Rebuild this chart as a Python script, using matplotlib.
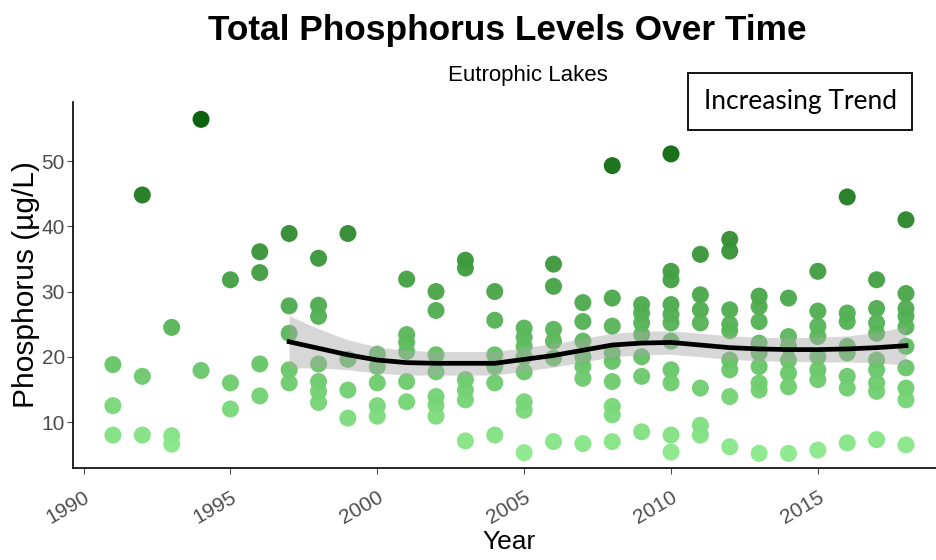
import matplotlib
matplotlib.use("Agg")
import matplotlib.pyplot as plt
import numpy as np
from matplotlib.colors import LinearSegmentedColormap

# Total phosphorus samples (µg/L) per sampling year
years = [1991, 1992, 1993, 1994, 1995, 1996, 1997, 1998, 1999, 2000,
         2001, 2002, 2003, 2004, 2005, 2006, 2007, 2008, 2009, 2010,
         2011, 2012, 2013, 2014, 2015, 2016, 2017, 2018]

tp_by_year = [
    [18.8, 12.5, 8.0],                                          # 1991
    [44.8, 17.0, 8.0],                                          # 1992
    [24.5, 7.9, 6.6],                                           # 1993
    [56.4, 17.9],                                               # 1994
    [31.8, 16.0, 12.0],                                         # 1995
    [36.1, 32.9, 18.9, 14.0],                                   # 1996
    [38.9, 27.8, 23.6, 18.0, 16.0],                             # 1997
    [35.1, 27.9, 26.2, 18.9, 16.2, 14.7, 13.0],                 # 1998
    [38.9, 19.6, 14.9, 10.6],                                   # 1999
    [20.4, 18.5, 16.0, 12.5, 10.9],                             # 2000
    [31.9, 23.4, 22.2, 20.8, 16.2, 13.1],                       # 2001
    [30.0, 27.1, 20.3, 17.7, 13.9, 12.6, 10.9],                 # 2002
    [34.8, 33.6, 16.5, 14.9, 13.4, 7.1],                        # 2003
    [30.0, 25.6, 20.3, 18.5, 16.0, 8.0],                        # 2004
    [24.4, 23.0, 21.6, 20.0, 17.7, 13.1, 11.8, 5.3],            # 2005
    [34.2, 30.8, 24.2, 22.4, 19.8, 7.0],                        # 2006
    [28.3, 25.4, 22.4, 20.0, 18.5, 16.7, 6.7],                  # 2007
    [49.3, 29.0, 24.7, 20.6, 19.3, 16.2, 12.4, 11.1, 7.0],      # 2008
    [28.0, 26.7, 25.2, 23.4, 20.0, 17.0, 8.5],                  # 2009
    [51.1, 33.1, 31.8, 28.0, 26.5, 25.2, 22.4, 18.0, 16.0, 8.0, 5.4],  # 2010
    [35.7, 29.5, 27.2, 25.2, 15.2, 9.5, 8.0],                   # 2011
    [38.0, 36.2, 27.2, 25.0, 24.0, 19.5, 18.0, 13.9, 6.2],      # 2012
    [29.3, 27.7, 25.4, 22.1, 20.6, 18.5, 16.0, 14.9, 5.2],      # 2013
    [29.0, 23.1, 21.6, 19.5, 17.5, 15.4, 5.2],                  # 2014
    [33.1, 27.0, 24.7, 23.1, 20.0, 18.0, 16.5, 5.7],            # 2015
    [44.5, 26.7, 25.4, 21.6, 20.6, 17.0, 15.2, 6.8],            # 2016
    [31.8, 27.4, 25.2, 23.6, 19.5, 18.0, 16.0, 14.7, 7.3],      # 2017
    [41.0, 29.7, 27.4, 26.2, 24.6, 21.6, 18.3, 15.2, 13.4, 6.5],  # 2018
]

# Smoothed trend with its confidence band
trend_years = list(range(1997, 2019))
trend_fit = [22.3, 21.3, 20.3, 19.5, 19.1, 19.0, 19.0, 19.0, 19.6, 20.2, 21.0,
             21.8, 22.1, 22.2, 21.8, 21.4, 21.2, 21.1, 21.1, 21.2, 21.4, 21.7]
trend_halfwidth = [4.0, 3.0, 2.3, 2.0, 1.9, 1.8, 1.8, 1.8, 1.8, 1.8, 1.8,
                   1.8, 1.8, 1.8, 1.8, 1.8, 1.8, 1.8, 1.9, 2.0, 2.3, 3.0]

x_ticks = [1990, 1995, 2000, 2005, 2010, 2015]
y_ticks = [10, 20, 30, 40, 50]

title = "Total Phosphorus Levels Over Time"
subtitle = "Eutrophic Lakes"
note = "Increasing Trend"

# ---------------------------------------------------------------------------
plt.rcParams["font.family"] = ["Liberation Sans", "DejaVu Sans"]

fig = plt.figure(figsize=(9.37, 5.60), dpi=100)
ax = fig.add_axes([0.0782, 0.1637, 0.931, 0.6547])

xs = np.concatenate([[y] * len(v) for y, v in zip(years, tp_by_year)])
ys = np.concatenate([np.asarray(v, float) for v in tp_by_year])

greens = LinearSegmentedColormap.from_list("greens", ["#8AEA8A", "#005A00"])
ax.scatter(xs, ys, c=ys, cmap=greens, vmin=ys.min(), vmax=ys.max(),
           s=150, alpha=0.95, edgecolors="none", zorder=2)

fit = np.asarray(trend_fit)
hw = np.asarray(trend_halfwidth)
ax.fill_between(trend_years, fit - hw, fit + hw, color="#A8A8A8", alpha=0.45,
                linewidth=0, zorder=3)
ax.plot(trend_years, fit, color="black", lw=3.4, zorder=4)

ax.set_xlim(1989.65, 2019.35)
ax.set_ylim(2.9, 59.1)
ax.set_xticks(x_ticks)
ax.set_yticks(y_ticks)
ax.set_xticklabels([str(t) for t in x_ticks], rotation=30, ha="right",
                   rotation_mode="anchor")
ax.tick_params(axis="both", colors="#4D4D4D", labelsize=15, length=4,
               width=0.8)
ax.tick_params(axis="x", pad=10)
ax.tick_params(axis="y", pad=2)

for side in ("top", "right"):
    ax.spines[side].set_visible(False)
for side in ("left", "bottom"):
    ax.spines[side].set_color("black")
    ax.spines[side].set_linewidth(1.2)

ax.set_xlabel("Year", fontsize=19, labelpad=2)
ax.set_ylabel("Phosphorus (µg/L)", fontsize=21.5, labelpad=1)

fig.text(0.541, 0.946, title, ha="center", va="center", fontsize=25.4,
         fontweight="bold")
fig.text(0.5635, 0.866, subtitle, ha="center", va="center", fontsize=16)

fig.text(0.8538, 0.8188, note, ha="center", va="center", fontsize=19,
         family=["Lato", "DejaVu Sans"],
         bbox=dict(boxstyle="square,pad=0.6", facecolor="white",
                   edgecolor="black", linewidth=1.3))

fig.savefig("out.png", dpi=100)
